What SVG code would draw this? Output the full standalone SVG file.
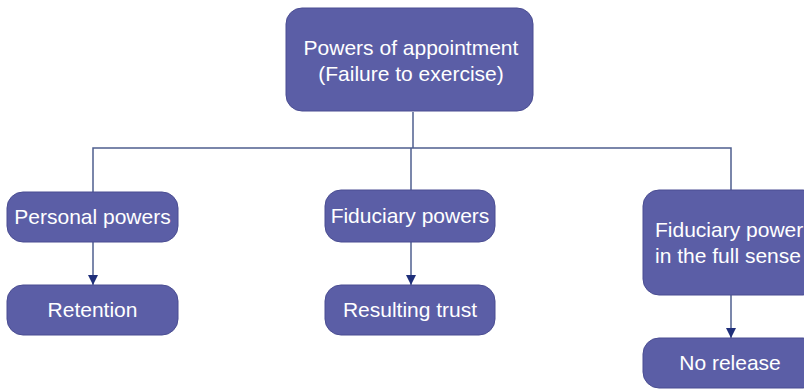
<svg xmlns="http://www.w3.org/2000/svg" width="804" height="390" viewBox="0 0 804 390">
<defs>
<style>
.box{fill:#5b5ea6;stroke:#4a4d92;stroke-width:1}
.t{fill:#ffffff;font-family:"Liberation Sans",Arial,sans-serif;font-size:21px;text-anchor:middle}
.c{fill:none;stroke:#4f5f8f;stroke-width:1.5}
</style>
<marker id="ah" viewBox="0 0 10 10" refX="10" refY="5" markerWidth="10" markerHeight="11" orient="auto" markerUnits="userSpaceOnUse">
<path d="M0,0 L10,5 L0,10 z" fill="#1f2f7a"/>
</marker>
</defs>
<rect width="804" height="390" fill="#ffffff"/>
<g id="connectors">
<path class="c" d="M413,112 V148"/>
<path class="c" d="M93,192 V148 H731 V190"/>
<path class="c" d="M411,148 V190"/>
<path class="c" d="M93,242 V285" marker-end="url(#ah)"/>
<path class="c" d="M411,242 V285" marker-end="url(#ah)"/>
<path class="c" d="M731,295 V338" marker-end="url(#ah)"/>
</g>
<g id="root">
<rect class="box" x="286" y="8" width="247" height="103" rx="16"/>
<text class="t" x="411" y="55">Powers of appointment</text>
<text class="t" x="411" y="81">(Failure to exercise)</text>
</g>
<g id="personal">
<rect class="box" x="7" y="192" width="171" height="50" rx="16"/>
<text class="t" x="92.5" y="224">Personal powers</text>
</g>
<g id="retention">
<rect class="box" x="7" y="285" width="171" height="50" rx="16"/>
<text class="t" x="92.5" y="317">Retention</text>
</g>
<g id="fiduciary">
<rect class="box" x="325" y="190" width="170" height="52" rx="16"/>
<text class="t" x="410" y="223">Fiduciary powers</text>
</g>
<g id="resulting">
<rect class="box" x="325" y="285" width="170" height="50" rx="16"/>
<text class="t" x="410" y="317">Resulting trust</text>
</g>
<g id="fullsense">
<rect class="box" x="643" y="190" width="176" height="105" rx="16"/>
<text class="t" x="655" y="237" style="text-anchor:start">Fiduciary power</text>
<text class="t" x="655" y="263" style="text-anchor:start">in the full sense</text>
</g>
<g id="norelease">
<rect class="box" x="643" y="338" width="176" height="50" rx="16"/>
<text class="t" x="730" y="370">No release</text>
</g>
</svg>
